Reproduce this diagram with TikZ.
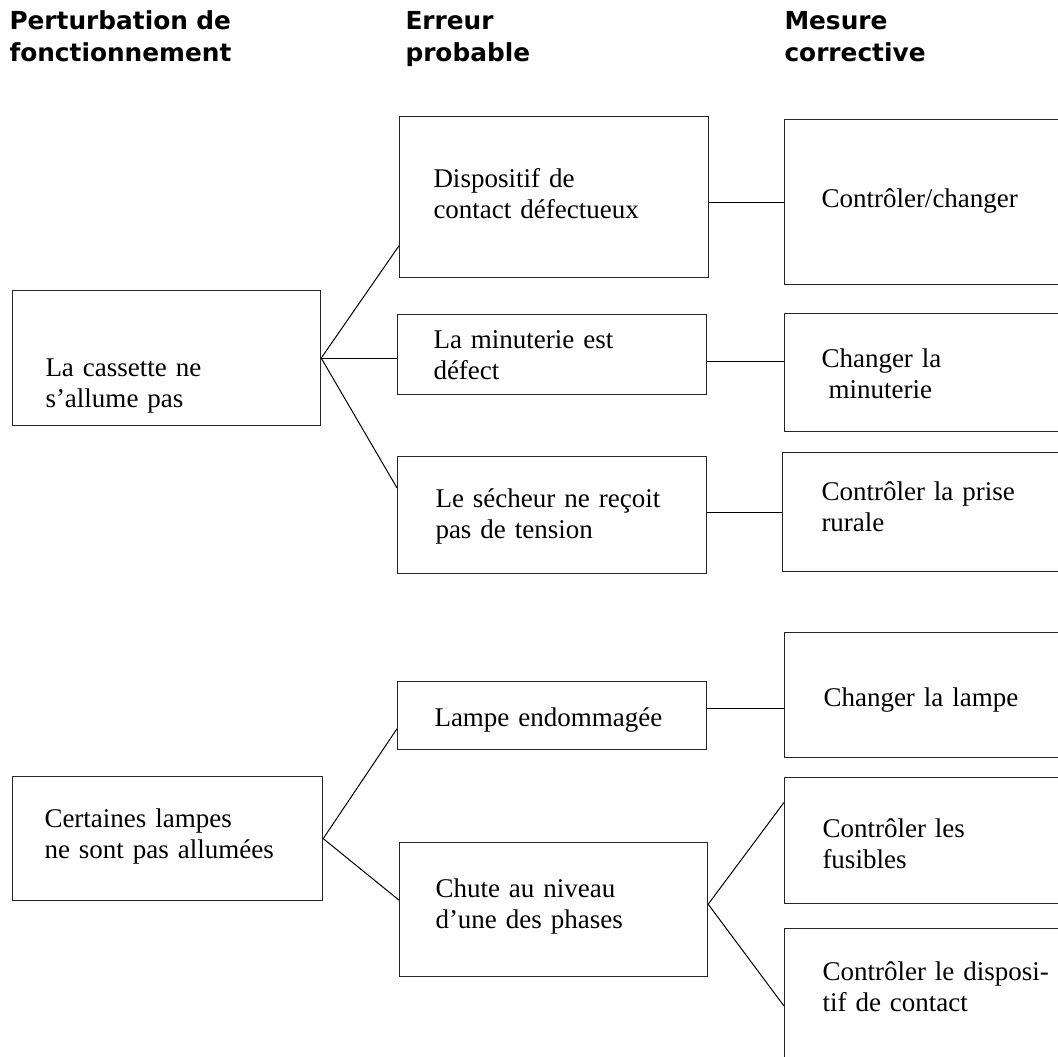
\documentclass[tikz,border=0pt]{standalone}
\usepackage{fontspec}
\setmainfont{Liberation Serif}
\newfontfamily\headfont{DejaVu Sans}
\usetikzlibrary{%
  calc,%
  positioning%
}

\begin{document}
\begin{tikzpicture}
[x=1pt, y=-1pt, line width=1pt,
box/.style={rectangle, draw=black!85, line width=1.2pt, inner sep=0pt, anchor=north west},
txt/.style={anchor=base west, inner sep=0pt, text width=290pt, align=left,
  font=\fontsize{27}{31}\selectfont},
head/.style={anchor=base west, inner sep=0pt, text width=300pt, align=left,
  font=\headfont\bfseries\fontsize{24.8}{31.7}\selectfont}]

\useasboundingbox (0,0) rectangle (1058,1057);
\clip (0,0) rectangle (1058,1057);

% column heads
\node[head] (head cause) at (9,30) {Perturbation de\\fonctionnement};
\node[head] (head error) at (405,30) {Erreur\\probable};
\node[head] (head fix) at (784,30) {Mesure\\corrective};

% boxes
\foreach \n/\x/\y/\w/\h in {l1/12/290/308pt/135pt, m1/399/116/309pt/161pt,
  m2/397/314/309pt/80pt, m3/397/456/309pt/117pt, r1/784/119/300pt/165pt,
  r2/784/313/300pt/118pt, r3/782/452/300pt/119pt, l2/12/776/310pt/124pt,
  m4/397/681/309pt/68pt, m5/399/842/308pt/134pt, r4/784/632/300pt/125pt,
  r5/784/777/300pt/126pt, r6/784/928/300pt/160pt}
  \node[box, minimum width=\w, minimum height=\h] (\n) at (\x,\y) {};

% texts
\node[txt] (l1 text) at (45,376) {La cassette ne\\s’allume pas};
\node[txt] (m1 text) at (433,187) {Dispositif de\\contact défectueux};
\node[txt] (m2 text) at (433,348) {La minuterie est\\défect};
\node[txt] (m3 text) at (435,507) {Le sécheur ne reçoit\\pas de tension};
\node[txt] (r1 text) at (821,207) {Contrôler/changer};
\node[txt] (r2 text) at (821,367) {Changer la\\\hspace*{7pt}minuterie};
\node[txt] (r3 text) at (821,500) {Contrôler la prise\\rurale};
\node[txt] (l2 text) at (44,827) {Certaines lampes\\ne sont pas allumées};
\node[txt] (m4 text) at (434,726) {Lampe endommagée};
\node[txt] (m5 text) at (435,897) {Chute au niveau\\d’une des phases};
\node[txt] (r4 text) at (823,706) {Changer la lampe};
\node[txt] (r5 text) at (822,837) {Contrôler les\\fusibles};
\node[txt] (r6 text) at (822,980) {Contrôler le disposi-\\tif de contact};

% connectors
\draw (l1.east) -- ($(m1.south west)!0.2!(m1.north west)$);
\draw (l1.east) -- (l1.east -| m2.west);
\draw (l1.east) -- ($(m3.south west)!0.73!(m3.north west)$);
\draw (m1.east |- r1.west) -- (r1.west);
\coordinate (m2 out) at ($(m2.south east)!0.41!(m2.north east)$);
\draw (m2 out) -- (m2 out -| r2.west);
\draw (r3.west -| m3.east) -- (r3.west);
\draw (l2.east) -- ($(m4.south west)!0.31!(m4.north west)$);
\draw (l2.east) -- ($(m5.south west)!0.57!(m5.north west)$);
\coordinate (m4 out) at ($(m4.south east)!0.6!(m4.north east)$);
\draw (m4 out) -- (m4 out -| r4.west);
\coordinate (m5 out) at ($(m5.south east)!0.54!(m5.north east)$);
\draw (m5 out) -- ($(r5.south west)!0.8!(r5.north west)$);
\draw (m5 out) -- ($(r6.north west)+(0,78)$);
\end{tikzpicture}
\end{document}
